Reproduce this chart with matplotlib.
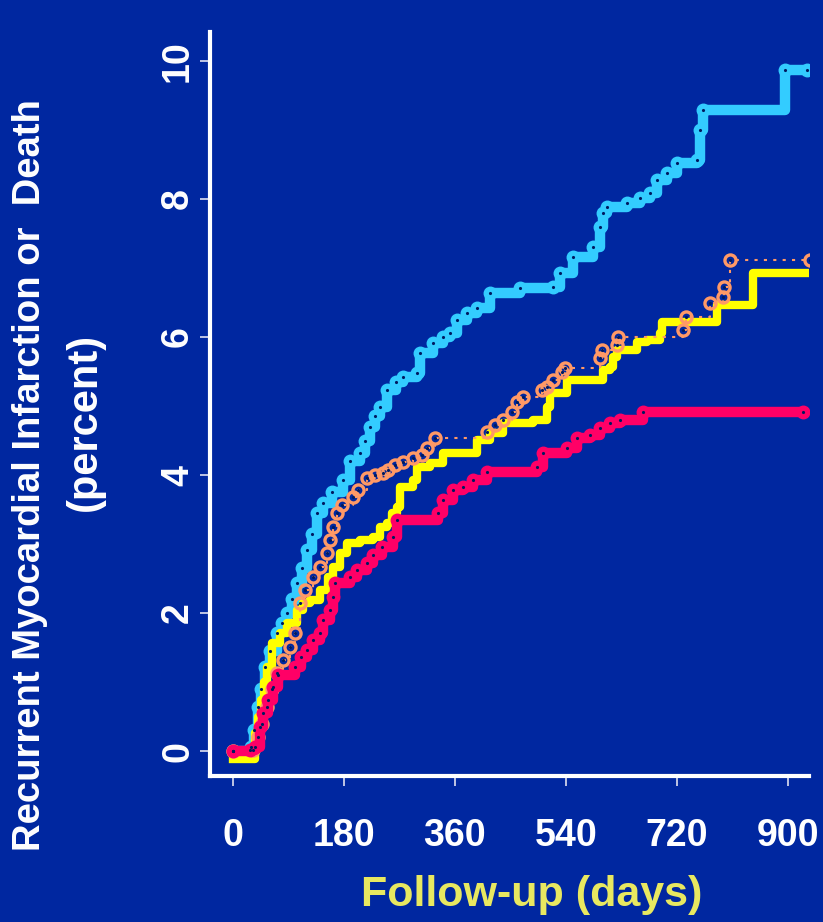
import matplotlib
matplotlib.use("Agg")
import matplotlib.pyplot as plt

# Kaplan-Meier style step curves, (day, percent)
cyan_days = [0, 30, 35, 40, 46, 52, 60, 71, 80, 88, 96, 104, 112, 120, 128, 136, 146, 160,
             178, 190, 206, 214, 222, 230, 238, 250, 265, 276, 298, 303, 324, 340, 352, 363,
             380, 396, 417, 465, 519, 530, 551, 584, 595, 600, 606, 639, 660, 676, 688, 704,
             720, 752, 757, 762, 895, 931]
cyan_pct = [0, 0.06, 0.3, 0.64, 0.9, 1.22, 1.45, 1.71, 1.85, 2.0, 2.2, 2.43, 2.65, 2.91, 3.15,
            3.45, 3.6, 3.75, 3.93, 4.2, 4.32, 4.5, 4.7, 4.85, 4.99, 5.23, 5.35, 5.42, 5.48, 5.77,
            5.91, 6.0, 6.06, 6.25, 6.35, 6.42, 6.64, 6.71, 6.72, 6.93, 7.16, 7.3, 7.59, 7.8,
            7.88, 7.94, 8.01, 8.09, 8.28, 8.38, 8.52, 8.57, 9.0, 9.29, 9.87, 9.87]

salmon_days = [0, 32, 40, 47, 55, 63, 71, 81, 92, 100, 109, 117, 130, 141, 152, 157, 162, 169,
               177, 195, 203, 217, 230, 243, 251, 263, 276, 292, 306, 315, 328, 412, 425, 438,
               452, 461, 470, 501, 509, 519, 533, 538, 595, 598, 623, 624, 730, 734, 773, 795,
               797, 806, 936]
salmon_pct = [0, 0.02, 0.2, 0.4, 0.64, 0.9, 1.13, 1.32, 1.51, 1.71, 2.14, 2.33, 2.52, 2.67,
              2.87, 3.06, 3.25, 3.45, 3.57, 3.68, 3.78, 3.96, 4.0, 4.03, 4.07, 4.14, 4.19, 4.25,
              4.29, 4.39, 4.54, 4.62, 4.72, 4.8, 4.91, 5.06, 5.13, 5.23, 5.28, 5.38, 5.49, 5.55,
              5.7, 5.81, 5.88, 6.0, 6.1, 6.29, 6.49, 6.58, 6.72, 7.12, 7.12]

yellow_days = [0, 36, 40, 45, 50, 55, 63, 76, 88, 104, 114, 125, 141, 154, 162, 174, 185, 206,
               227, 238, 250, 258, 266, 271, 292, 298, 319, 341, 396, 417, 438, 486, 509, 514,
               542, 600, 611, 616, 623, 655, 671, 692, 696, 785, 843, 932]
yellow_pct = [-0.12, 0.26, 0.5, 0.74, 1.0, 1.22, 1.57, 1.71, 1.86, 2.04, 2.14, 2.19, 2.33, 2.52,
              2.67, 2.87, 3.01, 3.06, 3.1, 3.25, 3.3, 3.45, 3.54, 3.83, 3.93, 4.12, 4.17, 4.32,
              4.51, 4.61, 4.75, 4.8, 4.99, 5.19, 5.38, 5.52, 5.57, 5.71, 5.81, 5.93, 5.96, 6.06,
              6.22, 6.46, 6.93, 6.93]

magenta_days = [0, 28, 36, 44, 49, 57, 65, 73, 100, 110, 120, 130, 141, 146, 157, 162, 165,
                190, 201, 217, 227, 242, 259, 266, 332, 341, 357, 373, 389, 412, 493, 503, 542,
                558, 579, 595, 611, 628, 665, 924]
magenta_pct = [0, 0.01, 0.06, 0.35, 0.55, 0.74, 0.93, 1.1, 1.22, 1.36, 1.46, 1.61, 1.71, 1.9,
               2.04, 2.23, 2.43, 2.52, 2.62, 2.72, 2.84, 2.96, 3.1, 3.35, 3.45, 3.64, 3.78, 3.83,
               3.93, 4.04, 4.12, 4.32, 4.39, 4.54, 4.58, 4.68, 4.75, 4.8, 4.91, 4.91]

x_ticks = [0, 180, 360, 540, 720, 900]
y_ticks = [0, 2, 4, 6, 8, 10]

bg = "#0027A0"
plt.rcParams["font.family"] = ["Liberation Sans", "DejaVu Sans"]
plt.rcParams["font.weight"] = "bold"

fig = plt.figure(figsize=(8.23, 9.22), dpi=100, facecolor=bg)
ax = fig.add_axes([210 / 823, 146 / 922, 599 / 823, 744 / 922], facecolor=bg)

ax.plot(cyan_days, cyan_pct, drawstyle="steps-post", color="#33CCFF", lw=7.5,
        solid_joinstyle="round", solid_capstyle="round", zorder=1)
ax.plot(cyan_days, cyan_pct, "o", color="#33CCFF", ms=9, zorder=1)
ax.plot(yellow_days, yellow_pct, drawstyle="steps-post", color="#FFFF00", lw=6,
        solid_joinstyle="round", zorder=2)
ax.plot(salmon_days, salmon_pct, drawstyle="steps-post", color="#FF9966", lw=1.5,
        ls=(0, (1.5, 3)), zorder=3)
ax.plot(salmon_days, salmon_pct, "o", mfc="none", mec="#FF9966", mew=2.4, ms=8, zorder=3)
ax.plot(magenta_days, magenta_pct, drawstyle="steps-post", color="#FF0066", lw=7.5,
        solid_joinstyle="round", solid_capstyle="round", zorder=4)
ax.plot(magenta_days, magenta_pct, "o", color="#FF0066", ms=9, zorder=4)
for d, p in [(cyan_days, cyan_pct), (salmon_days, salmon_pct), (magenta_days, magenta_pct)]:
    ax.plot(d, p, ".", color="#001A60", ms=2.5, zorder=5)

ax.set_xlim(-37, 934)
ax.set_ylim(-0.36, 10.42)

for s in ["top", "right"]:
    ax.spines[s].set_visible(False)
for s in ["left", "bottom"]:
    ax.spines[s].set_color("white")
    ax.spines[s].set_linewidth(3)

ax.set_xticks(x_ticks)
ax.set_xticklabels([str(t) for t in x_ticks])
ax.set_yticks(y_ticks)
ax.set_yticklabels([str(t) for t in y_ticks], rotation=90, va="center")
ax.tick_params(axis="both", colors="#E0E0F0", length=7, width=1.2, labelcolor="white",
               labelsize=27)
ax.tick_params(axis="x", pad=23)
ax.tick_params(axis="y", pad=3)

fig.text(30 / 823, 1 - 475 / 922, "Recurrent Myocardial Infarction or  Death", rotation=90,
         ha="center", va="center", color="white", fontsize=27.5, fontweight="bold")
fig.text(85 / 823, 1 - 422 / 922, "(percent)", rotation=90,
         ha="center", va="center", color="white", fontsize=30, fontweight="bold")
fig.text(532 / 823, 1 - 895 / 922, "Follow-up (days)", ha="center", va="center",
         color="#E8E860", fontsize=31, fontweight="bold")

fig.savefig("out.png", dpi=100, facecolor=bg)
